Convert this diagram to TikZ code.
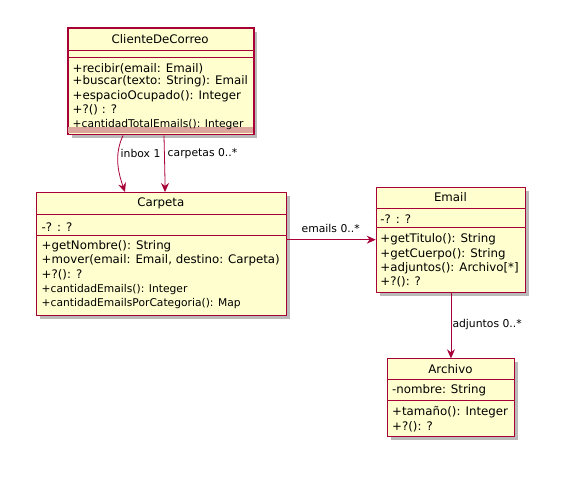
\documentclass[tikz,border=0pt]{standalone}
\usepackage{fontspec}
\setmainfont{DejaVu Sans}
\usetikzlibrary{arrows.meta,calc,shadows}
\definecolor{umlborder}{HTML}{A80036}
\definecolor{umlfill}{HTML}{FEFECE}
\definecolor{umlband}{RGB}{221,166,156}

\tikzset{
  classbox/.style={draw=umlborder, fill=umlfill, line width=1pt, inner sep=0pt,
    anchor=north west,
    drop shadow={shadow xshift=3.5pt, shadow yshift=-3.5pt, opacity=.45, fill=black!60}},
  member/.style={anchor=west, inner sep=0pt, font=\fontsize{11.8}{14}\selectfont},
  smallmember/.style={anchor=west, inner sep=0pt, font=\fontsize{10.7}{12}\selectfont},
  classtitle/.style={anchor=center, inner sep=0pt, font=\fontsize{11.8}{14}\selectfont},
  sepline/.style={draw=umlborder, line width=0.8pt},
  assoc/.style={draw=umlborder, line width=0.8pt,
    -{Stealth[length=9pt,width=8pt,inset=3pt]}},
  role/.style={anchor=west, inner sep=0pt, font=\fontsize{10.8}{13}\selectfont},
}

\begin{document}
\begin{tikzpicture}[x=1pt, y=-1pt]
  \useasboundingbox[fill=white] (0,0) rectangle (578,478);

  % ---------- ClienteDeCorreo ----------
  \node[classbox, minimum width=185.5pt, minimum height=106pt] (cliente) at (67.5,28) {};
  \fill[umlband] (68,127.3) rectangle (252.5,133.5);
  \draw[umlborder, line width=1pt] (cliente.north west) rectangle (cliente.south east);
  \node[classtitle] (clienteT) at (160.2,39) {ClienteDeCorreo};
  \draw[sepline] (cliente.west |- 0,50) -- (cliente.east |- 0,50);
  \draw[sepline] (cliente.west |- 0,57.5) -- (cliente.east |- 0,57.5);
  \node[member] (c1) at (72.5,68.3) {+recibir(email: Email)};
  \node[member] (c2) at (72.5,81.7) {+buscar(texto: String): Email};
  \node[member] (c3) at (72.5,96) {+espacioOcupado(): Integer};
  \node[member] (c4) at (72.5,109.5) {+?() : ?};
  \node[smallmember] (c5) at (72.5,124.8) {+cantidadTotalEmails(): Integer};

  % ---------- Carpeta ----------
  \node[classbox, minimum width=249.5pt, minimum height=122.5pt] (carpeta) at (36,192) {};
  \node[classtitle] (carpetaT) at (160.8,203.3) {Carpeta};
  \draw[sepline] (carpeta.west |- 0,214.5) -- (carpeta.east |- 0,214.5);
  \node[member] (p0) at (41.5,226.7) {-? : ?};
  \draw[sepline] (carpeta.west |- 0,235.5) -- (carpeta.east |- 0,235.5);
  \node[member] (p1) at (41.5,246.7) {+getNombre(): String};
  \node[member] (p2) at (41.5,260.7) {+mover(email: Email, destino: Carpeta)};
  \node[member] (p3) at (41.5,275) {+?(): ?};
  \node[smallmember] (p4) at (41.5,289.3) {+cantidadEmails(): Integer};
  \node[smallmember] (p5) at (41.5,303.3) {+cantidadEmailsPorCategoria(): Map};

  % ---------- Email ----------
  \node[classbox, minimum width=149.5pt, minimum height=105pt] (email) at (375.7,186.7) {};
  \node[classtitle] (emailT) at (450.4,196.7) {Email};
  \draw[sepline] (email.west |- 0,208.7) -- (email.east |- 0,208.7);
  \node[member] (e0) at (380.2,219.3) {-? : ?};
  \draw[sepline] (email.west |- 0,227.7) -- (email.east |- 0,227.7);
  \node[member] (e1) at (380.2,239.3) {+getTitulo(): String};
  \node[member] (e2) at (380.2,254) {+getCuerpo(): String};
  \node[member] (e3) at (380.2,268.3) {+adjuntos(): Archivo[*]};
  \node[member] (e4) at (380.2,281.7) {+?(): ?};

  % ---------- Archivo ----------
  \node[classbox, minimum width=127.5pt, minimum height=77.7pt] (archivo) at (386.7,358.3) {};
  \node[classtitle] (archivoT) at (450.4,369) {Archivo};
  \draw[sepline] (archivo.west |- 0,379.5) -- (archivo.east |- 0,379.5);
  \node[member] (a0) at (392,390) {-nombre: String};
  \draw[sepline] (archivo.west |- 0,400) -- (archivo.east |- 0,400);
  \node[member] (a1) at (392,412.3) {+tamaño(): Integer};
  \node[member] (a2) at (392,426.7) {+?(): ?};

  % ---------- Associations ----------
  \coordinate (inboxS) at ($(cliente.south west)+(55.5,0.5)$);
  \coordinate (inboxE) at ($(carpeta.north west)+(89,0)$);
  \draw[assoc] (inboxS) .. controls (114,155) and (118,172) .. (inboxE);
  \node[role] (inboxL) at (120.5,153.3) {inbox 1};

  \coordinate (carpS) at ($(cliente.south west)+(96.5,0.5)$);
  \coordinate (carpE) at ($(carpeta.north west)+(129,0)$);
  \draw[assoc] (carpS) .. controls (164.5,160) and (165,175) .. (carpE);
  \node[role] (carpL) at (167.5,153.3) {carpetas 0..*};

  \draw[assoc] (carpeta.east |- email.west) -- (email.west);
  \node[role] (emailsL) at (301.5,228.3) {emails 0..*};

  \draw[assoc] (email.south) -- (archivo.north);
  \node[role] (adjL) at (452.3,325) {adjuntos 0..*};
\end{tikzpicture}
\end{document}
